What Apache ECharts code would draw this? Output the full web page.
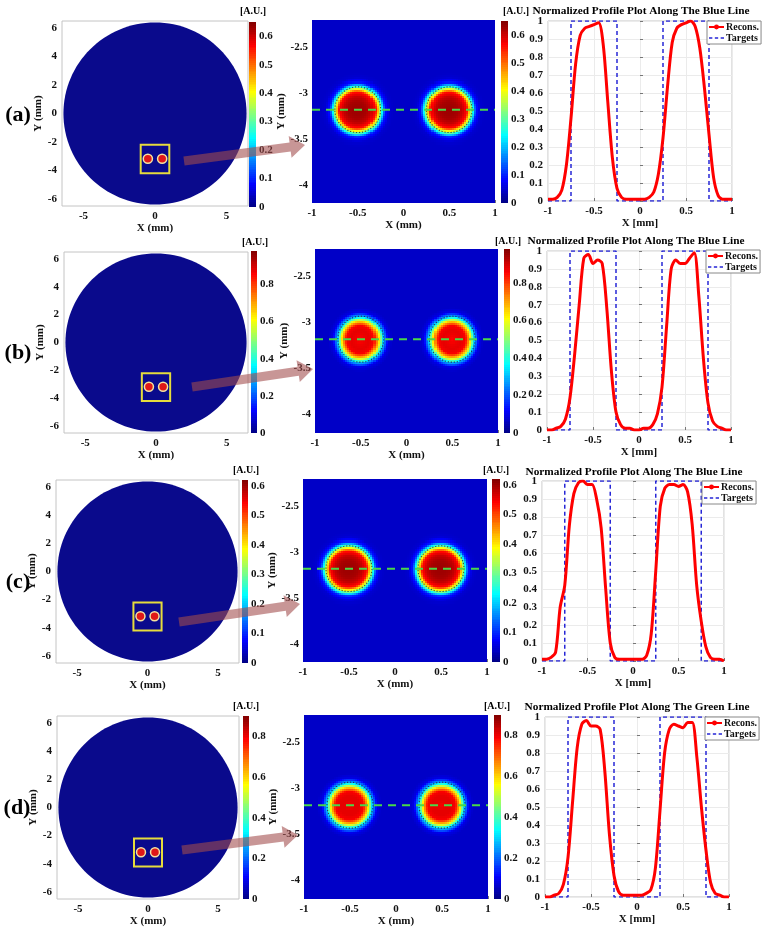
<!DOCTYPE html>
<html><head><meta charset="utf-8">
<script src="https://cdn.jsdelivr.net/npm/echarts@6/dist/echarts.min.js"></script>
<style>html,body{margin:0;padding:0;background:#fff}#c{width:763px;height:935px}</style>
</head><body><div id="c"></div>
<script>
// ---------------- DATA ----------------
const rowTags = ['(a)', '(b)', '(c)', '(d)'];
const profileTitles = [
  'Normalized Profile Plot Along The Blue Line',
  'Normalized Profile Plot Along The Blue Line',
  'Normalized Profile Plot Along The Blue Line',
  'Normalized Profile Plot Along The Green Line'
];
const colorbarMax = [0.65, 0.98, 0.62, 0.9];
const cbTicksA = [0, 0.1, 0.2, 0.3, 0.4, 0.5, 0.6];
const cbTicksB = [0, 0.2, 0.4, 0.6, 0.8];
const cbTicksC = [0, 0.1, 0.2, 0.3, 0.4, 0.5, 0.6];
const cbTicksD = [0, 0.2, 0.4, 0.6, 0.8];

const profileX = [-1,-0.95,-0.9,-0.85,-0.8,-0.75,-0.7,-0.65,-0.6,-0.55,-0.5,-0.45,-0.4,-0.35,-0.3,-0.25,-0.2,-0.15,-0.1,-0.05,0,
  0.05,0.1,0.15,0.2,0.25,0.3,0.35,0.4,0.45,0.5,0.55,0.6,0.65,0.7,0.75,0.8,0.85,0.9,0.95,1];
const reconsA = [0.01,0.01,0.02,0.06,0.20,0.46,0.76,0.92,0.96,0.97,0.98,0.99,0.87,0.55,0.24,0.07,0.02,0.01,0.01,0.01,0.01,
  0.01,0.02,0.05,0.15,0.35,0.64,0.88,0.96,0.98,0.99,1.00,0.97,0.85,0.63,0.37,0.13,0.03,0.01,0.01,0.01];
const reconsB = [0.00,0.00,0.01,0.02,0.06,0.18,0.42,0.70,0.96,0.98,0.93,0.95,0.93,0.68,0.33,0.10,0.03,0.01,0.01,0.00,0.00,
  0.01,0.01,0.03,0.09,0.24,0.58,0.90,0.95,0.93,0.93,0.96,0.99,0.75,0.40,0.15,0.05,0.02,0.01,0.00,0.00];
const reconsC = [0.01,0.01,0.02,0.05,0.30,0.42,0.75,0.93,0.99,1.00,0.98,0.98,0.90,0.74,0.40,0.10,0.02,0.01,0.01,0.01,0.01,
  0.01,0.01,0.03,0.15,0.50,0.86,0.96,0.98,0.98,0.97,0.98,0.94,0.76,0.42,0.22,0.08,0.02,0.01,0.01,0.00];
const reconsD = [0.00,0.00,0.01,0.02,0.07,0.22,0.53,0.83,0.96,0.98,0.95,0.95,0.93,0.70,0.35,0.12,0.03,0.01,0.01,0.01,0.01,
  0.01,0.02,0.04,0.16,0.48,0.80,0.93,0.96,0.95,0.94,0.97,0.97,0.78,0.50,0.26,0.08,0.02,0.01,0.00,0.00];

const targetX = [-1,-0.75,-0.75,-0.25,-0.25,0.25,0.25,0.75,0.75,1];
const targetY = [0,0,1,1,0,0,1,1,0,0];

// zoomed images: radial intensity (fraction of colorbar max) vs distance from blob centre (mm)
const radialDist = [0,0.05,0.1,0.15,0.2,0.25,0.3,0.35,0.4,0.45,0.5];
const radialA = [0.97,0.97,0.96,0.93,0.86,0.50,0.15,0.08,0.07,0.07,0.07];
const radialB = [0.87,0.89,0.90,0.88,0.66,0.30,0.10,0.07,0.07,0.07,0.07];
const radialC = [0.97,0.97,0.96,0.93,0.86,0.52,0.16,0.08,0.07,0.07,0.07];
const radialD = [0.88,0.90,0.90,0.88,0.66,0.30,0.10,0.07,0.07,0.07,0.07];

const blobCentersX = [-0.5, 0.5];
const blobCenterY = -3.18;
const targetRadius = 0.25;
const diskRadius = 6.4;
const dotRadius = 0.32;
const zoomBox = [-1, -4.2, 1, -2.2];
const leftTicksX = [-5, 0, 5];
const leftTicksY = [-6, -4, -2, 0, 2, 4, 6];
const midTicksY = [-4, -3.5, -3, -2.5];

// ---------------- LAYOUT / STYLE ----------------
const FONT = "'Liberation Serif','Times New Roman',serif";
const jet = ['#000080','#0000ff','#0080ff','#00ffff','#80ff80','#ffff00','#ff8000','#ff0000','#800000'];
const layout = [
 {L:[62,21,186,185], cbL:[249,22,7,185], M:[312,20,183,183], cbM:[501,21,7,182], R:[548,21,184,180], tag:[18,115], auL:[253,11], auM:[516,11], arrow:[184,161,305,145], title:[641,11], legend:[707,21]},
 {L:[64,252,184,181], cbL:[251,251,6,182], M:[315,249,183,184], cbM:[504,249,6,184], R:[547,251,184,179], tag:[18,353], auL:[255,242], auM:[508,241], arrow:[192,387,313,369], title:[636,241], legend:[706,250]},
 {L:[56,480,183,183], cbL:[242,480,6,183], M:[303,479,184,183], cbM:[492,479,8,183], R:[542,481,182,180], tag:[18,582], auL:[246,470], auM:[496,470], arrow:[179,622,300,604], title:[634,472], legend:[702,481]},
 {L:[57,716,182,183], cbL:[243,716,6,183], M:[304,715,184,184], cbM:[494,715,7,184], R:[545,717,184,180], tag:[17,808], auL:[246,706], auM:[497,706], arrow:[182,850,298,835], title:[637,707], legend:[705,717]}
];
const rows = [
 {recons: reconsA, radial: radialA, max: colorbarMax[0], cbTicks: cbTicksA},
 {recons: reconsB, radial: radialB, max: colorbarMax[1], cbTicks: cbTicksB},
 {recons: reconsC, radial: radialC, max: colorbarMax[2], cbTicks: cbTicksC},
 {recons: reconsD, radial: radialD, max: colorbarMax[3], cbTicks: cbTicksD}
];

const tickFont = {fontFamily: FONT, fontWeight: 'bold', fontSize: 11, color: '#111'};
const nameFont = {fontFamily: FONT, fontWeight: 'bold', fontSize: 11, color: '#111'};
const tickStyle = {lineStyle: {color: '#777'}};
const noProg = {progressive: 0, progressiveThreshold: 1e9};

const grids = [], xAxes = [], yAxes = [], series = [], visualMaps = [], graphics = [], legends = [];
function addGrid(r, border) {
  grids.push({left: r[0], top: r[1], width: r[2], height: r[3], show: !!border,
    borderColor: '#c4c4c4', borderWidth: 1, backgroundColor: 'transparent'});
  return grids.length - 1;
}
function addX(c) { xAxes.push(c); return xAxes.length - 1; }
function addY(c) { yAxes.push(c); return yAxes.length - 1; }
function addSeries(s) { series.push(Object.assign({}, noProg, s)); return series.length - 1; }

function radialValue(prof, d) {
  const last = radialDist.length - 1;
  if (d >= radialDist[last]) return prof[last];
  let k = 0;
  while (k < last - 1 && d > radialDist[k + 1]) k++;
  const t = (d - radialDist[k]) / (radialDist[k + 1] - radialDist[k]);
  return prof[k] * (1 - t) + prof[k + 1] * t;
}

// cells drawn as pixel-snapped rects, coloured by the visualMap
function cellSeries(xIdx, yIdx, data, hw, hh) {
  return {type: 'custom', xAxisIndex: xIdx, yAxisIndex: yIdx, silent: true, clip: true, data: data,
    renderItem: (p, api) => {
      const a = api.coord([api.value(0) - hw, api.value(1) + hh]);
      const b = api.coord([api.value(0) + hw, api.value(1) - hh]);
      const x0 = Math.floor(a[0]), y0 = Math.floor(a[1]);
      const x1 = Math.ceil(b[0]), y1 = Math.ceil(b[1]);
      return {type: 'rect', shape: {x: x0, y: y0, width: x1 - x0, height: y1 - y0}, style: {fill: api.visual('color'), stroke: null}};
    }};
}

const N = 90;
const NCB = 100;

rows.forEach((row, r) => {
  const lay = layout[r];

  // ---- left full-view panel ----
  const gL = addGrid(lay.L, true);
  const xL = addX({type: 'value', gridIndex: gL, min: -6.5, max: 6.5, axisLine: {show: false}, splitLine: {show: false},
    axisTick: Object.assign({inside: true, length: 3, customValues: leftTicksX}, tickStyle),
    axisLabel: Object.assign({margin: 5, customValues: leftTicksX}, tickFont),
    name: 'X (mm)', nameLocation: 'middle', nameGap: 17, nameTextStyle: nameFont});
  const yL = addY({type: 'value', gridIndex: gL, min: -6.5, max: 6.5, axisLine: {show: false}, splitLine: {show: false},
    axisTick: Object.assign({inside: true, length: 3, customValues: leftTicksY}, tickStyle),
    axisLabel: Object.assign({margin: 5, customValues: leftTicksY}, tickFont),
    name: 'Y (mm)', nameLocation: 'middle', nameGap: 13, nameTextStyle: nameFont});
  addSeries({type: 'custom', xAxisIndex: xL, yAxisIndex: yL, silent: true, data: [[0, 0, diskRadius]],
    renderItem: (p, api) => {
      const c = api.coord([api.value(0), api.value(1)]);
      const s = api.size([api.value(2), api.value(2)]);
      return {type: 'ellipse', shape: {cx: c[0], cy: c[1], rx: s[0], ry: s[1]}, style: {fill: '#0a0a8c'}};
    }});
  addSeries({type: 'custom', xAxisIndex: xL, yAxisIndex: yL, silent: true, data: [zoomBox],
    renderItem: (p, api) => {
      const a = api.coord([api.value(0), api.value(1)]);
      const b = api.coord([api.value(2), api.value(3)]);
      return {type: 'rect', shape: {x: Math.min(a[0], b[0]), y: Math.min(a[1], b[1]), width: Math.abs(b[0] - a[0]), height: Math.abs(b[1] - a[1])},
        style: {fill: 'none', stroke: '#e6dc3c', lineWidth: 2}};
    }});
  addSeries({type: 'custom', xAxisIndex: xL, yAxisIndex: yL, silent: true,
    data: blobCentersX.map(x => [x, blobCenterY, dotRadius]),
    renderItem: (p, api) => {
      const c = api.coord([api.value(0), api.value(1)]);
      const s = api.size([api.value(2), api.value(2)]);
      return {type: 'ellipse', shape: {cx: c[0], cy: c[1], rx: s[0], ry: s[1]}, style: {fill: '#e01818', stroke: '#f5e2a0', lineWidth: 1.5}};
    }});

  // ---- colorbars ----
  const cbData = [];
  for (let j = 0; j < NCB; j++) cbData.push([0.5, (j + 0.5) / NCB * row.max, (j + 0.5) / NCB * row.max]);
  function colorbar(rect) {
    const g = addGrid(rect, false);
    const xi = addX({type: 'value', gridIndex: g, min: 0, max: 1, show: false});
    const yi = addY({type: 'value', gridIndex: g, min: 0, max: row.max, position: 'right', axisLine: {show: false}, splitLine: {show: false},
      axisTick: {show: false}, axisLabel: Object.assign({margin: 3, customValues: row.cbTicks}, tickFont)});
    return addSeries(cellSeries(xi, yi, cbData, 0.5, row.max / NCB / 2));
  }
  const sCbL = colorbar(lay.cbL);

  // ---- middle zoomed panel ----
  const gM = addGrid(lay.M, false);
  const xMv = addX({type: 'value', gridIndex: gM, min: -1, max: 1, interval: 0.5, position: 'bottom', axisLine: {show: false}, splitLine: {show: false},
    axisTick: Object.assign({inside: true, length: 3}, tickStyle), axisLabel: Object.assign({margin: 5}, tickFont),
    name: 'X (mm)', nameLocation: 'middle', nameGap: 17, nameTextStyle: nameFont});
  const yMv = addY({type: 'value', gridIndex: gM, min: -4.2, max: -2.2, position: 'left', axisLine: {show: false}, splitLine: {show: false},
    axisTick: Object.assign({inside: true, length: 3, customValues: midTicksY}, tickStyle),
    axisLabel: Object.assign({margin: 4, customValues: midTicksY}, tickFont),
    name: 'Y (mm)', nameLocation: 'middle', nameGap: 18, nameTextStyle: nameFont});
  const heat = [];
  for (let i = 0; i < N; i++) {
    const x = -1 + (i + 0.5) * 2 / N;
    for (let j = 0; j < N; j++) {
      const y = -4.2 + (j + 0.5) * 2 / N;
      let d = Infinity;
      blobCentersX.forEach(cx => { d = Math.min(d, Math.hypot(x - cx, y - blobCenterY)); });
      heat.push([x, y, row.max * radialValue(row.radial, d)]);
    }
  }
  const sHeat = addSeries(cellSeries(xMv, yMv, heat, 1 / N, 1 / N));
  addSeries({type: 'custom', xAxisIndex: xMv, yAxisIndex: yMv, silent: true, z: 3,
    data: blobCentersX.map(x => [x, blobCenterY, targetRadius]),
    renderItem: (p, api) => {
      const c = api.coord([api.value(0), api.value(1)]);
      const s = api.size([api.value(2), api.value(2)]);
      return {type: 'ellipse', shape: {cx: c[0], cy: c[1], rx: s[0], ry: s[1]},
        style: {fill: 'none', stroke: 'rgba(50,15,25,0.75)', lineWidth: 1.1, lineDash: [1.2, 1.8]}};
    }});
  addSeries({type: 'line', xAxisIndex: xMv, yAxisIndex: yMv, silent: true, z: 4, symbol: 'none',
    data: [[-1, blobCenterY], [1, blobCenterY]], lineStyle: {color: '#48d848', width: 2, type: [8, 6]}});

  const sCbM = colorbar(lay.cbM);

  visualMaps.push({type: 'continuous', show: false, min: 0, max: row.max, dimension: 2,
    seriesIndex: [sHeat, sCbL, sCbM], inRange: {color: jet}});

  // ---- right profile panel ----
  const gR = addGrid(lay.R, true);
  const xR = addX({type: 'value', gridIndex: gR, min: -1, max: 1, interval: 0.5, axisLine: {show: false},
    splitLine: {show: true, lineStyle: {color: '#ebebeb'}},
    axisTick: Object.assign({inside: true, length: 3}, tickStyle), axisLabel: Object.assign({margin: 5}, tickFont),
    name: 'X [mm]', nameLocation: 'middle', nameGap: 17, nameTextStyle: nameFont});
  const yR = addY({type: 'value', gridIndex: gR, min: 0, max: 1, interval: 0.1, axisLine: {show: false},
    splitLine: {show: true, lineStyle: {color: '#ebebeb'}},
    axisTick: Object.assign({inside: true, length: 3}, tickStyle), axisLabel: Object.assign({margin: 5}, tickFont)});
  addSeries({type: 'line', name: 'Targets', xAxisIndex: xR, yAxisIndex: yR, symbol: 'none', silent: true,
    data: targetX.map((x, i) => [x, targetY[i]]), lineStyle: {color: '#2626d6', width: 1.5, type: [4, 3]}, itemStyle: {color: '#2626d6'}});
  addSeries({type: 'line', name: 'Recons.', xAxisIndex: xR, yAxisIndex: yR, smooth: 0.3, symbol: 'circle', symbolSize: 4, showSymbol: false, silent: true,
    data: profileX.map((x, i) => [x, row.recons[i]]), lineStyle: {color: '#ff0000', width: 3}, itemStyle: {color: '#ff0000'}});
  legends.push({left: lay.legend[0], top: lay.legend[1], orient: 'vertical', selectedMode: false,
    data: [{name: 'Recons.'}, {name: 'Targets', icon: 'path://M0,0H4V2H0Z M7,0H11V2H7Z M14,0H18V2H14Z'}],
    itemWidth: 15, itemHeight: 6, itemGap: 1,
    textStyle: {fontFamily: FONT, fontWeight: 'bold', fontSize: 10, color: '#111', padding: [0, 0, 0, -3]},
    backgroundColor: '#fff', borderColor: '#888', borderWidth: 1, padding: [1, 2, 1, 1]});

  // ---- texts ----
  graphics.push({type: 'text', x: lay.tag[0], y: lay.tag[1], z: 50,
    style: {text: rowTags[r], fill: '#000', font: "bold 22px " + FONT, align: 'center', verticalAlign: 'middle'}});
  graphics.push({type: 'text', x: lay.auL[0], y: lay.auL[1], z: 50,
    style: {text: '[A.U.]', fill: '#000', font: "bold 10px " + FONT, align: 'center', verticalAlign: 'middle'}});
  graphics.push({type: 'text', x: lay.auM[0], y: lay.auM[1], z: 50,
    style: {text: '[A.U.]', fill: '#000', font: "bold 10px " + FONT, align: 'center', verticalAlign: 'middle'}});
  graphics.push({type: 'text', x: lay.title[0], y: lay.title[1], z: 50,
    style: {text: profileTitles[r], fill: '#000', font: "bold 11.3px " + FONT, align: 'center', verticalAlign: 'middle'}});

  // ---- arrow ----
  const [x0, y0, x1, y1] = lay.arrow;
  const len = Math.hypot(x1 - x0, y1 - y0);
  const ux = (x1 - x0) / len, uy = (y1 - y0) / len, nx = -uy, ny = ux;
  const w = 4.5, h = 11, L = 15;
  const bx = x1 - ux * L, by = y1 - uy * L;
  graphics.push({type: 'polygon', z: 60, silent: true,
    shape: {points: [[x0 + nx * w, y0 + ny * w], [bx + nx * w, by + ny * w], [bx + nx * h, by + ny * h], [x1, y1],
      [bx - nx * h, by - ny * h], [bx - nx * w, by - ny * w], [x0 - nx * w, y0 - ny * w]]},
    style: {fill: 'rgba(162,77,77,0.59)'}});
});

const chart = echarts.init(document.getElementById('c'), null, {renderer: 'canvas', width: 763, height: 935});
chart.setOption({
  animation: false,
  backgroundColor: '#fff',
  grid: grids, xAxis: xAxes, yAxis: yAxes, series: series,
  visualMap: visualMaps, legend: legends, graphic: graphics
});
</script></body></html>
